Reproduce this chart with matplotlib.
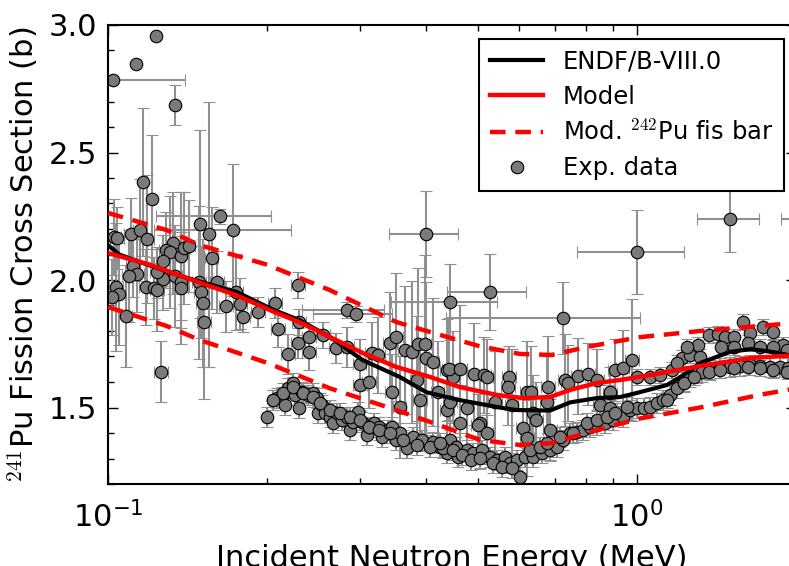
import matplotlib
matplotlib.use("Agg")
import matplotlib.pyplot as plt
import numpy as np
from matplotlib.ticker import MultipleLocator

plt.rcParams["font.family"] = "DejaVu Sans"
plt.rcParams["mathtext.fontset"] = "cm"
plt.rcParams["font.size"] = 22

# ENDF/B-VIII.0 evaluation
endf_e = [0.1, 0.105, 0.115, 0.14, 0.175, 0.206, 0.23, 0.263, 0.303, 0.356, 0.40,
          0.46, 0.55, 0.593, 0.685, 0.748, 0.84, 0.93, 1.0, 1.14, 1.21, 1.32, 1.5,
          1.64, 1.8, 2.0]
endf_xs = [2.137, 2.10, 2.07, 2.01, 1.953, 1.882, 1.843, 1.776, 1.686, 1.62, 1.56,
           1.53, 1.50, 1.49, 1.488, 1.52, 1.537, 1.541, 1.557, 1.588, 1.62, 1.675,
           1.718, 1.729, 1.718, 1.70]

# model calculation
model_e = [0.1, 0.12, 0.149, 0.175, 0.206, 0.23, 0.263, 0.303, 0.351, 0.406, 0.463,
           0.544, 0.61, 0.685, 0.748, 0.84, 0.93, 1.06, 1.318, 1.64, 2.0]
model_xs = [2.106, 2.06, 1.99, 1.94, 1.875, 1.835, 1.776, 1.714, 1.659, 1.62, 1.58,
            1.549, 1.537, 1.541, 1.569, 1.596, 1.608, 1.627, 1.663, 1.694, 1.705]

# model with modified 242Pu fission barrier (upper / lower)
band_e = [0.1, 0.129, 0.149, 0.2, 0.263, 0.351, 0.424, 0.505, 0.601, 0.69, 0.816,
          1.014, 1.318, 1.711, 2.0]
band_hi = [2.263, 2.196, 2.137, 2.06, 1.96, 1.835, 1.785, 1.74, 1.71, 1.706, 1.74,
           1.776, 1.80, 1.82, 1.832]
band_lo = [1.894, 1.82, 1.765, 1.675, 1.575, 1.49, 1.43, 1.373, 1.353, 1.36, 1.404,
           1.457, 1.50, 1.55, 1.575]

# sparse experimental points (energy, xs, dE, dxs)
sp_e = [0.102, 0.1128, 0.123, 0.134, 0.1165, 0.121, 0.149, 0.155, 0.163, 0.172,
        0.283, 0.294, 0.40, 0.443, 0.527, 0.725, 1.0, 1.5, 2.1]
sp_xs = [2.784, 2.847, 2.957, 2.686, 2.384, 2.318, 2.22, 2.18, 2.25, 2.196,
         1.882, 1.867, 2.18, 1.914, 1.953, 1.851, 2.11, 2.24, 2.24]
sp_de = [0.038, 0, 0, 0, 0, 0, 0, 0, 0.04, 0.05,
         0.05, 0.05, 0.06, 0.10, 0.09, 0.29, 0.23, 0.20, 0.23]
sp_dxs = [0, 0, 0, 0.08, 0.29, 0.25, 0.37, 0.52, 0.03, 0.26,
          0.03, 0.03, 0.17, 0.15, 0.15, 0.14, 0.165, 0.13, 0.13]

# scattered data with large uncertainties
sc_e = [0.1026, 0.104, 0.1105, 0.115, 0.1185, 0.1327, 0.1287, 0.131, 0.1375, 0.139,
        0.142, 0.157, 0.127, 0.1115, 0.1135, 0.1095, 0.127, 0.124, 0.134, 0.1375,
        0.1375, 0.118, 0.122, 0.124, 0.1485, 0.150, 0.151, 0.152, 0.161, 0.1745,
        0.167, 0.178, 0.180, 0.192, 0.1036, 0.105, 0.1018, 0.108, 0.207, 0.126,
        0.21, 0.219, 0.229, 0.23, 0.229, 0.24, 0.24, 0.255, 0.27, 0.283,
        0.299, 0.30, 0.312, 0.316, 0.324, 0.341, 0.351, 0.345, 0.356, 0.364,
        0.376, 0.386, 0.397, 0.40, 0.411, 0.389, 0.384, 0.438, 0.449, 0.438,
        0.441, 0.463, 0.492, 0.514, 0.52, 0.574, 0.57, 0.62, 0.63, 0.68,
        0.73, 0.74, 0.775, 0.81, 0.84, 0.89, 0.91, 0.94, 0.98, 0.42,
        0.477, 0.505, 0.54, 0.58, 0.675, 0.636, 0.443, 0.463, 0.50, 0.52,
        0.61, 0.62, 0.685, 0.646, 0.852, 0.89]
sc_xs = [2.169, 2.165, 2.18, 2.196, 2.161, 2.145, 2.118, 2.11, 2.094, 2.125,
         2.133, 2.086, 2.075, 2.055, 2.024, 2.016, 2.004, 2.031, 2.016, 1.992,
         1.969, 1.973, 1.969, 1.961, 1.992, 1.953, 1.91, 1.835, 1.992, 1.953,
         1.898, 1.906, 1.855, 1.875, 1.973, 1.945, 1.933, 1.859, 1.91, 1.64,
         1.806, 1.71, 1.98, 1.835, 1.753, 1.776, 1.718, 1.784, 1.733, 1.737,
         1.67, 1.588, 1.60, 1.714, 1.706, 1.753, 1.776, 1.56, 1.502, 1.725,
         1.718, 1.749, 1.749, 1.694, 1.678, 1.53, 1.608, 1.647, 1.62, 1.49,
         1.651, 1.651, 1.631, 1.627, 1.62, 1.62, 1.58, 1.56, 1.56, 1.58,
         1.608, 1.596, 1.624, 1.631, 1.608, 1.557, 1.647, 1.655, 1.686, 1.56,
         1.498, 1.439, 1.522, 1.51, 1.522, 1.478, 1.522, 1.44, 1.431, 1.40,
         1.42, 1.38, 1.412, 1.45, 1.51, 1.50]
sc_dxs = [0.15, 0.12, 0.14, 0.20, 0.25, 0.20, 0.15, 0.22, 0.25, 0.22,
          0.18, 0.20, 0.10, 0.12, 0.15, 0.18, 0.12, 0.10, 0.20, 0.18,
          0.22, 0.15, 0.12, 0.16, 0.30, 0.18, 0.25, 0.30, 0.12, 0.15,
          0.10, 0.10, 0.06, 0.06, 0.25, 0.20, 0.15, 0.20, 0.06, 0.12,
          0.07, 0.08, 0.05, 0.05, 0.06, 0.06, 0.07, 0.05, 0.06, 0.08,
          0.10, 0.10, 0.10, 0.12, 0.15, 0.20, 0.25, 0.15, 0.20, 0.25,
          0.28, 0.30, 0.35, 0.30, 0.25, 0.20, 0.25, 0.20, 0.18, 0.15,
          0.20, 0.25, 0.20, 0.15, 0.15, 0.12, 0.15, 0.20, 0.18, 0.20,
          0.18, 0.15, 0.15, 0.12, 0.12, 0.10, 0.12, 0.15, 0.24, 0.20,
          0.15, 0.18, 0.20, 0.22, 0.18, 0.15, 0.15, 0.15, 0.12, 0.12,
          0.12, 0.15, 0.12, 0.15, 0.08, 0.06]

# dense low-lying data set
lo_e = [0.200, 0.205, 0.209, 0.213, 0.216, 0.219, 0.2235, 0.226, 0.23, 0.233,
        0.239, 0.244, 0.248, 0.249, 0.254, 0.257, 0.263, 0.266, 0.271, 0.277,
        0.283, 0.287, 0.29, 0.297, 0.302, 0.309, 0.312, 0.319, 0.326, 0.33,
        0.338, 0.345, 0.351, 0.356, 0.367, 0.378, 0.393, 0.411, 0.424, 0.438,
        0.449, 0.459, 0.443, 0.456, 0.477, 0.49, 0.51, 0.527, 0.544, 0.563,
        0.575, 0.601, 0.593, 0.614, 0.636, 0.662, 0.685, 0.705, 0.725, 0.748,
        0.77, 0.79, 0.816, 0.84, 0.87, 0.90, 0.94, 0.971, 1.0, 1.03,
        1.06, 1.09, 1.12, 1.156, 1.19, 1.23, 1.262, 1.30, 1.33, 1.376,
        1.437, 1.50, 1.568, 1.638, 1.711, 1.787, 1.867, 1.93,
        0.205, 0.214, 0.224, 0.234, 0.244, 0.252, 0.263, 0.275, 0.287, 0.299,
        0.312, 0.326, 0.341, 0.362, 0.384, 0.406, 0.43, 0.424, 0.449, 0.468,
        0.486, 0.505, 0.535, 0.557, 0.58, 0.628, 0.656, 0.675, 0.716, 0.757,
        0.805, 0.84, 0.878, 0.91, 0.96]
lo_xs = [1.463, 1.53, 1.537, 1.541, 1.51, 1.577, 1.596, 1.549, 1.498, 1.561,
         1.549, 1.557, 1.537, 1.478, 1.51, 1.478, 1.463, 1.439, 1.478, 1.451,
         1.463, 1.412, 1.443, 1.482, 1.443, 1.392, 1.424, 1.439, 1.424, 1.384,
         1.412, 1.424, 1.373, 1.40, 1.341, 1.384, 1.373, 1.365, 1.345, 1.322,
         1.345, 1.306, 1.373, 1.345, 1.333, 1.322, 1.333, 1.306, 1.294, 1.306,
         1.282, 1.227, 1.294, 1.306, 1.306, 1.322, 1.333, 1.345, 1.373, 1.40,
         1.404, 1.412, 1.424, 1.431, 1.439, 1.451, 1.463, 1.49, 1.498, 1.498,
         1.502, 1.518, 1.53, 1.549, 1.576, 1.60, 1.62, 1.635, 1.639, 1.647,
         1.655, 1.659, 1.663, 1.667, 1.663, 1.659, 1.659, 1.655,
         1.53, 1.557, 1.58, 1.557, 1.541, 1.518, 1.49, 1.478, 1.463, 1.451,
         1.424, 1.412, 1.40, 1.373, 1.353, 1.345, 1.341, 1.361, 1.333, 1.314,
         1.294, 1.302, 1.282, 1.267, 1.263, 1.333, 1.345, 1.361, 1.384, 1.40,
         1.439, 1.451, 1.463, 1.478, 1.502]

# dense high-lying data set above ~0.9 MeV
hi_e = [0.89, 1.0, 1.06, 1.107, 1.166, 1.22, 1.262, 1.306, 1.37, 1.425,
        1.47, 1.53, 1.59, 1.638, 1.735, 1.81, 1.89, 1.318, 1.44, 1.53,
        1.62, 1.71, 1.81, 1.92, 1.23, 1.28, 1.37, 1.437, 1.53, 1.62,
        1.71, 1.81, 1.92, 1.14, 1.19, 1.245]
hi_xs = [1.56, 1.62, 1.62, 1.627, 1.647, 1.694, 1.706, 1.745, 1.784, 1.788,
         1.776, 1.776, 1.835, 1.792, 1.816, 1.796, 1.745, 1.698, 1.737, 1.737,
         1.753, 1.737, 1.737, 1.725, 1.596, 1.62, 1.64, 1.647, 1.655, 1.659,
         1.655, 1.647, 1.64, 1.53, 1.675, 1.737]

fig = plt.figure(figsize=(7.89, 5.66), dpi=100)
ax = fig.add_axes([108 / 789, 1 - 484 / 566, 688 / 789, 459 / 566])

gray = "#7a7a7a"
bar = "#909090"
pt = dict(fmt="o", ms=9, mfc=gray, mec="black", mew=0.8, ecolor=bar,
          elinewidth=1.5, capsize=4, capthick=1.5, zorder=2)

ax.errorbar(sc_e, sc_xs, yerr=sc_dxs, xerr=np.array(sc_e) * 0.03, **pt)
ax.errorbar(lo_e, lo_xs, yerr=0.04, xerr=np.array(lo_e) * 0.01, **pt)
ax.errorbar(hi_e, hi_xs, yerr=0.03, xerr=np.array(hi_e) * 0.01, **pt)
ax.errorbar(sp_e, sp_xs, yerr=sp_dxs, xerr=sp_de, **pt)

ax.plot(endf_e, endf_xs, color="black", lw=3, label="ENDF/B-VIII.0", zorder=4)
ax.plot(model_e, model_xs, color="red", lw=3.2, label="Model", zorder=5)
ax.plot(band_e, band_hi, color="red", lw=3.2, ls=(0, (3.5, 2.2)),
        label=r"Mod. $^{242}$Pu fis bar", zorder=5)
ax.plot(band_e, band_lo, color="red", lw=3.2, ls=(0, (3.5, 2.2)), zorder=5)
ax.plot([], [], "o", ms=9, mfc=gray, mec="black", mew=0.8, label="Exp. data")

ax.set_xscale("log")
ax.set_xlim(0.1, 2.0)
ax.set_ylim(1.2, 3.0)
ax.yaxis.set_major_locator(MultipleLocator(0.5))
ax.yaxis.set_minor_locator(MultipleLocator(0.1))
ax.tick_params(which="both", direction="in", top=True, right=True, width=1)
ax.tick_params(which="major", length=7, pad=8, labelsize=22)
ax.tick_params(which="minor", length=4)
ax.tick_params(axis="x", which="major", pad=12)
for s in ax.spines.values():
    s.set_linewidth(1.5)

ax.set_xlabel("Incident Neutron Energy (MeV)", labelpad=8)
ax.set_ylabel(r"$^{241}$Pu Fission Cross Section (b)", labelpad=6)

leg = ax.legend(loc="upper right", bbox_to_anchor=(784 / 789, 1 - 39 / 566),
                bbox_transform=fig.transFigure, borderaxespad=0, fontsize=17.5,
                numpoints=1, fancybox=False, handlelength=2.2, framealpha=1,
                borderpad=0.45, labelspacing=0.45)
leg.get_frame().set_edgecolor("black")
leg.get_frame().set_linewidth(1.5)

fig.savefig("out.png", dpi=100)
